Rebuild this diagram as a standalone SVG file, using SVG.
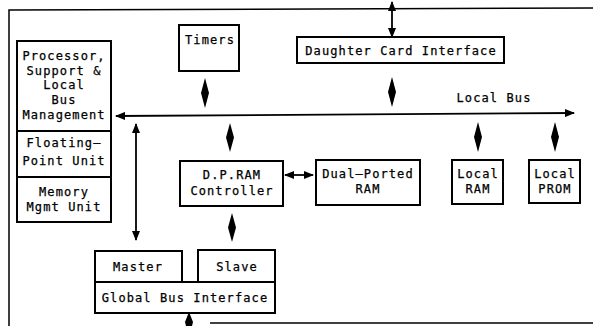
<svg xmlns="http://www.w3.org/2000/svg" width="593" height="326" viewBox="0 0 593 326">
<style>
  .box { fill: #fff; stroke: #000; stroke-width: 2; }
  .ln { fill: none; stroke: #000; stroke-width: 1.8; }
  .frame { fill: none; stroke: #000; stroke-width: 1.5; }
  text { font-family: "DejaVu Sans Mono", "Liberation Mono", monospace; font-size: 12px; letter-spacing: 1.1px; fill: #000; stroke: #000; stroke-width: 0.25; text-anchor: middle; }
  .dia { fill: #000; stroke: none; }
</style>
<defs>
  <marker id="ah" viewBox="0 0 10 8" refX="9" refY="4" markerWidth="10" markerHeight="8" markerUnits="userSpaceOnUse" orient="auto-start-reverse">
    <path d="M0,0 L10,4 L0,8 Z" fill="#000"/>
  </marker>
</defs>
<rect width="593" height="326" fill="#fff"/>
<g id="frame">
  <path class="frame" d="M9,326 L9,10 L593,8"/>
  <path class="frame" d="M210,323 L593,323"/>
</g>
<g id="processor">
  <rect class="box" x="17" y="41" width="94" height="90"/>
  <text x="64" y="60">Processor,</text>
  <text x="64" y="75">Support &amp;</text>
  <text x="64" y="89">Local</text>
  <text x="64" y="104">Bus</text>
  <text x="64" y="119">Management</text>
</g>
<g id="fpu">
  <rect class="box" x="17" y="131" width="94" height="46"/>
  <text x="64" y="147">Floating–</text>
  <text x="64" y="165">Point Unit</text>
</g>
<g id="mmu">
  <rect class="box" x="17" y="177" width="94" height="45"/>
  <text x="64" y="196">Memory</text>
  <text x="64" y="211">Mgmt Unit</text>
</g>
<g id="timers">
  <rect class="box" x="179" y="25" width="60" height="46"/>
  <text x="210" y="44">Timers</text>
</g>
<g id="daughter">
  <rect class="box" x="297" y="37" width="207" height="26"/>
  <text x="401" y="55">Daughter Card Interface</text>
</g>
<g id="dpctrl">
  <rect class="box" x="180" y="161" width="103" height="45"/>
  <text x="232" y="179">D.P.RAM</text>
  <text x="232" y="195">Controller</text>
</g>
<g id="dpram">
  <rect class="box" x="316" y="160" width="104" height="45"/>
  <text x="368" y="178">Dual–Ported</text>
  <text x="368" y="193">RAM</text>
</g>
<g id="localram">
  <rect class="box" x="452" y="160" width="51" height="44"/>
  <text x="478" y="178">Local</text>
  <text x="478" y="193">RAM</text>
</g>
<g id="localprom">
  <rect class="box" x="529" y="160" width="51" height="43"/>
  <text x="555" y="178">Local</text>
  <text x="555" y="193">PROM</text>
</g>
<g id="master">
  <rect class="box" x="95" y="251" width="87" height="31"/>
  <text x="138" y="271">Master</text>
</g>
<g id="slave">
  <rect class="box" x="198" y="250" width="77" height="32"/>
  <text x="237" y="271">Slave</text>
</g>
<g id="gbi">
  <rect class="box" x="95" y="282" width="180" height="31"/>
  <text x="185" y="302">Global Bus Interface</text>
</g>
<g id="connectors">
  <line class="ln" x1="116" y1="116" x2="574" y2="113" marker-start="url(#ah)" marker-end="url(#ah)"/>
  <text x="494" y="102">Local Bus</text>
  <line class="ln" x1="392" y1="2" x2="392" y2="37" marker-start="url(#ah)" marker-end="url(#ah)"/>
  <line class="ln" x1="136" y1="124" x2="136" y2="240" marker-start="url(#ah)" marker-end="url(#ah)"/>
  <line class="ln" x1="285" y1="175" x2="313" y2="175" marker-start="url(#ah)" marker-end="url(#ah)"/>
  <path class="dia" d="M205,78 L209,93 L205,108 L201,93 Z"/>
  <path class="dia" d="M392,77 L396,92 L392,107 L388,92 Z"/>
  <path class="dia" d="M230,123 L234,137.5 L230,152 L226,137.5 Z"/>
  <path class="dia" d="M478,122 L482,137 L478,152 L474,137 Z"/>
  <path class="dia" d="M555,122 L559,137 L555,152 L551,137 Z"/>
  <path class="dia" d="M232,213 L236,227.5 L232,242 L228,227.5 Z"/>
  <path class="dia" d="M189,312 L193,322 L192,326 L186,326 L185,322 Z"/>
</g>
</svg>
